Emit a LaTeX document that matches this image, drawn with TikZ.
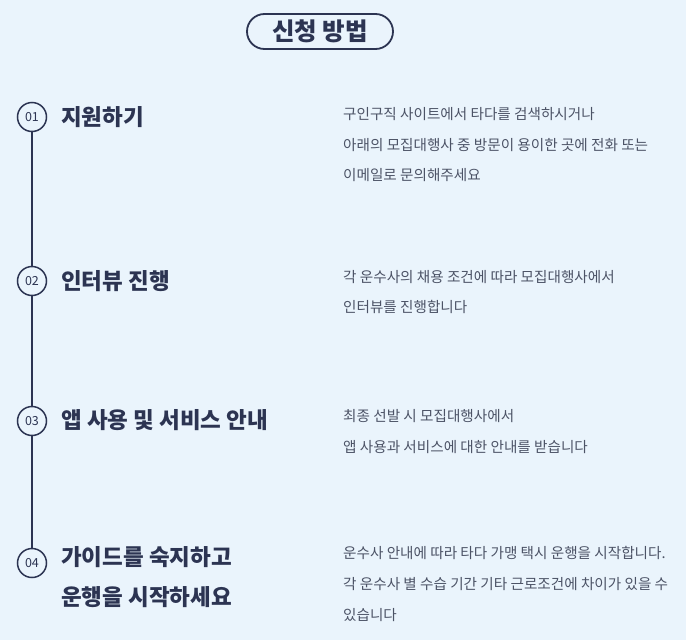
\documentclass[tikz,border=0pt]{standalone}
\usepackage{fontspec}
\setmainfont{Noto Sans CJK KR}
\definecolor{bgc}{HTML}{EAF4FC}
\definecolor{navy}{HTML}{2C3452}
\definecolor{desc}{HTML}{4C5366}
\tikzset{
  stepcirc/.style={circle, draw=navy, line width=1.5pt, minimum size=29pt, inner sep=0pt, fill=bgc, text=navy, font=\fontsize{12.5}{12.5}\selectfont},
  headtxt/.style={anchor=base west, inner sep=0pt, text=navy, font=\fontsize{22.5}{22.5}\selectfont\bfseries},
  desctxt/.style={anchor=base west, inner sep=0pt, text=desc, font=\fontsize{14.6}{14.6}\selectfont},
}
\begin{document}
\begin{tikzpicture}[x=1pt, y=-1pt]
\fill[bgc] (0,0) rectangle (686,640);
\useasboundingbox (0,0) rectangle (686,640);
\node[draw=navy, line width=1.8pt, rounded corners=17.5pt, minimum width=146pt, minimum height=35pt, inner sep=0pt, text=navy, font=\fontsize{24.5}{24.5}\selectfont\bfseries] (title) at (320,31.5) {신청 방법};

\node[stepcirc] (c1) at (32,117) {01};
\node[stepcirc] (c2) at (32,281) {02};
\node[stepcirc] (c3) at (32,421) {03};
\node[stepcirc] (c4) at (32,563) {04};
\draw[navy, line width=1.5pt] (c1) -- (c2) (c2) -- (c3) (c3) -- (c4);

\node[headtxt] (h1) at (61,125.3) {지원하기};
\node[headtxt] (h2) at (61,289.3) {인터뷰 진행};
\node[headtxt] (h3) at (61,428.3) {앱 사용 및 서비스 안내};
\node[headtxt] (h4a) at (61,565.3) {가이드를 숙지하고};
\node[headtxt] (h4b) at (61,605.3) {운행을 시작하세요};

\node[desctxt] (d1a) at (343,119.5) {구인구직 사이트에서 타다를 검색하시거나};
\node[desctxt] (d1b) at (343,150.5) {아래의 모집대행사 중 방문이 용이한 곳에 전화 또는};
\node[desctxt] (d1c) at (343,180.5) {이메일로 문의해주세요};

\node[desctxt] (d2a) at (343,282) {각 운수사의 채용 조건에 따라 모집대행사에서};
\node[desctxt] (d2b) at (343,312.5) {인터뷰를 진행합니다};

\node[desctxt] (d3a) at (343,421.5) {최종 선발 시 모집대행사에서};
\node[desctxt] (d3b) at (343,452.5) {앱 사용과 서비스에 대한 안내를 받습니다};

\node[desctxt] (d4a) at (343,558.5) {운수사 안내에 따라 타다 가맹 택시 운행을 시작합니다.};
\node[desctxt] (d4b) at (343,589.5) {각 운수사 별 수습 기간 기타 근로조건에 차이가 있을 수};
\node[desctxt] (d4c) at (343,620.5) {있습니다};
\end{tikzpicture}
\end{document}
